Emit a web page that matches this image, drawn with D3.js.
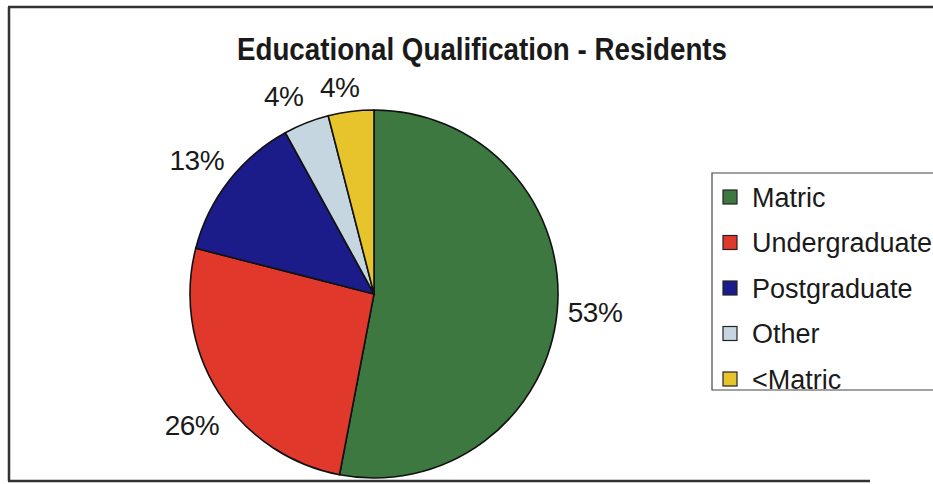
<!DOCTYPE html>
<html>
<head>
<meta charset="utf-8">
<script src="https://cdn.jsdelivr.net/npm/d3@7"></script>
<style>
  html, body { margin: 0; padding: 0; background: #fff; }
  svg { display: block; }
  text { font-family: "Liberation Sans", Arial, sans-serif; fill: #1a1a1a; }
</style>
</head>
<body>
<svg id="chart" width="933" height="484"></svg>
<script>
// Share of residents by highest educational qualification (percent)
const categories = ["Matric", "Undergraduate", "Postgraduate", "Other", "<Matric"];
const values = [53, 26, 13, 4, 4];
const labels = ["53%", "26%", "13%", "4%", "4%"];
const colors = ["#3c783f", "#e0392c", "#1b1c8a", "#c6d6e0", "#e8c42c"];
const title = "Educational Qualification - Residents";

const svg = d3.select("#chart");
const W = 933, H = 484;

// Frame lines (top, left, bottom)
const frame = svg.append("g").attr("stroke", "#333").attr("stroke-width", 2.5);
frame.append("line").attr("x1", 8).attr("y1", 7).attr("x2", W).attr("y2", 7);
frame.append("line").attr("x1", 9).attr("y1", 7).attr("x2", 9).attr("y2", 481);
frame.append("line").attr("x1", 8).attr("y1", 481).attr("x2", 870).attr("y2", 481);

// Title
svg.append("text")
  .attr("x", 482).attr("y", 60)
  .attr("text-anchor", "middle")
  .attr("font-size", 31).attr("font-weight", "bold")
  .attr("textLength", 490).attr("lengthAdjust", "spacingAndGlyphs")
  .text(title);

// Pie
const cx = 374, cy = 294, R = 184;
const pie = d3.pie().sort(null).value(d => d)(values);
const arc = d3.arc().innerRadius(0).outerRadius(R);
const g = svg.append("g").attr("transform", `translate(${cx},${cy})`);
g.selectAll("path").data(pie).join("path")
  .attr("d", arc)
  .attr("fill", (d, i) => colors[i])
  .attr("stroke", "#111").attr("stroke-width", 1.6);

// Percent labels outside the slices
const labelArc = d3.arc().innerRadius(R + 34).outerRadius(R + 34);
const labelNudge = [[4, -3], [2, 14], [-5, 0], [-10, 5], [-7, 9]];
g.selectAll("text.pct").data(pie).join("text")
  .attr("class", "pct")
  .attr("transform", (d, i) => {
    const [x, y] = labelArc.centroid(d);
    return `translate(${x + labelNudge[i][0]},${y + labelNudge[i][1]})`;
  })
  .attr("text-anchor", "middle")
  .attr("dy", "0.36em")
  .attr("font-size", 28)
  .attr("letter-spacing", -0.5)
  .text((d, i) => labels[i]);

// Legend
const legend = svg.append("g").attr("transform", "translate(712,173)");
legend.append("path")
  .attr("d", `M${W - 712},0 H0 V217 H${W - 712}`)
  .attr("fill", "none").attr("stroke", "#444").attr("stroke-width", 1.2);
const row = legend.selectAll("g.row").data(categories).join("g")
  .attr("class", "row")
  .attr("transform", (d, i) => `translate(0,${24 + i * 45.5})`);
row.append("rect")
  .attr("x", 11).attr("y", -7).attr("width", 14).attr("height", 14)
  .attr("fill", (d, i) => colors[i])
  .attr("stroke", "#222").attr("stroke-width", 1.2);
row.append("text")
  .attr("x", 40).attr("y", 0).attr("dy", "0.36em")
  .attr("font-size", 27)
  .text(d => d);
</script>
</body>
</html>
